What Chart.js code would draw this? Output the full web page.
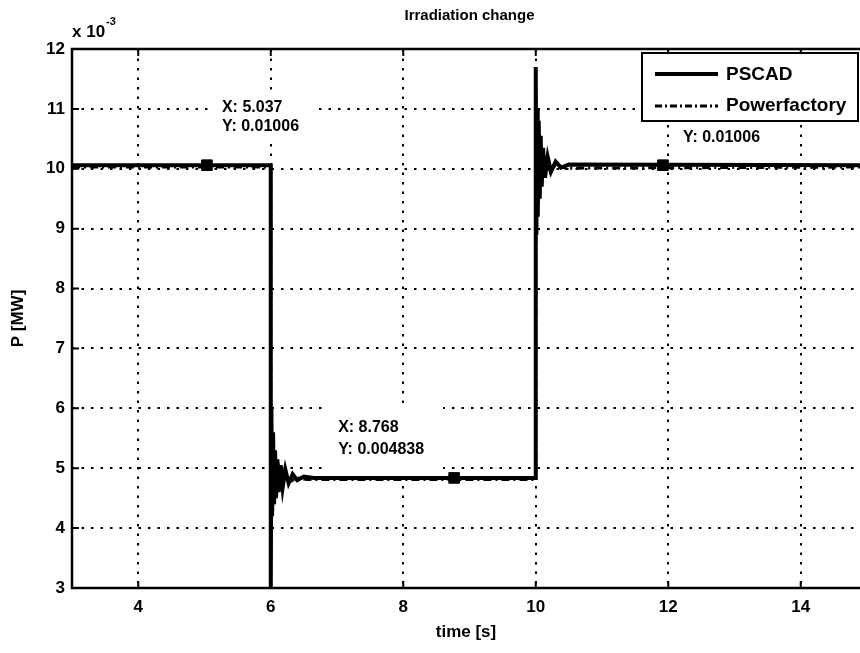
<!DOCTYPE html>
<html>
<head>
<meta charset="utf-8">
<script src="https://cdn.jsdelivr.net/npm/chart.js@4.4.1/dist/chart.umd.min.js"></script>
<style>
  html, body { margin: 0; padding: 0; background: #fff; overflow: hidden; }
  #wrap { width: 880px; height: 653px; }
</style>
</head>
<body>
<div id="wrap"><canvas id="chart" width="880" height="653"></canvas></div>
<script>
// axis ticks
const xTicks = [4, 6, 8, 10, 12, 14];
const yTicks = [3, 4, 5, 6, 7, 8, 9, 10, 11, 12];

// P in units of 10^-3 MW, time in s
const pscadT = [3, 6.0, 6.0, 6.01, 6.02, 6.035, 6.05, 6.065, 6.08, 6.1, 6.12, 6.15, 6.18, 6.22, 6.27, 6.33, 6.4, 6.5, 6.65,
                10.0, 10.0, 10.01, 10.02, 10.03, 10.045, 10.06, 10.075, 10.09, 10.11, 10.14, 10.18, 10.23, 10.3, 10.38, 10.5, 15];
const pscadP = [10.06, 10.06, 2.8, 6.0, 4.2, 5.6, 4.4, 5.3, 4.5, 5.15, 4.6, 5.05, 4.68, 4.98, 4.75, 4.9, 4.8, 4.86, 4.838,
                4.838, 11.7, 8.9, 11.0, 9.2, 10.8, 9.5, 10.55, 9.7, 10.35, 9.85, 10.2, 9.95, 10.12, 10.02, 10.07, 10.06];

const pfT = [3, 6.0, 6.0, 6.015, 6.03, 6.045, 6.06, 6.08, 6.1, 6.13, 6.17, 6.22, 6.3, 6.4, 6.55,
             10.0, 10.0, 10.01, 10.025, 10.04, 10.055, 10.075, 10.1, 10.13, 10.17, 10.22, 10.3, 10.45, 15];
const pfP = [10.03, 10.03, 3.5, 5.4, 4.3, 5.2, 4.5, 5.05, 4.62, 4.95, 4.72, 4.88, 4.78, 4.84, 4.81,
             4.81, 11.2, 9.1, 10.7, 9.4, 10.5, 9.7, 10.3, 9.85, 10.15, 9.95, 10.07, 10.01, 10.03];

// data tips
const tipX = [5.037, 8.768, 11.92];
const tipY = [10.06, 4.838, 10.06];
const tipText = [['X: 5.037', 'Y: 0.01006'], ['X: 8.768', 'Y: 0.004838'], ['X: 11.92', 'Y: 0.01006']];

const FONT = '"Liberation Sans", Arial, sans-serif';

// box offsets [dx, dy, w, h, textDx, line1Dy, line2Dy] relative to the tip point
const tipBox = [
  [6, -73, 100, 48, 15, -58, -39],
  [-127, -73, 116, 65, -116, -50, -28],
  [10, -73, 105, 58, 20, -50, -28]
];

const frame = {
  id: 'frame',
  beforeDatasetsDraw(chart) {
    const { ctx, scales: { x, y } } = chart;
    ctx.save();
    ctx.font = 'bold 16px ' + FONT;
    ctx.textBaseline = 'middle';
    tipX.forEach((tx, i) => {
      const px = x.getPixelForValue(tx), py = y.getPixelForValue(tipY[i]);
      const b = tipBox[i];
      ctx.fillStyle = '#fff';
      ctx.fillRect(px + b[0], py + b[1], b[2], b[3]);
      ctx.fillStyle = '#000';
      ctx.fillText(tipText[i][0], px + b[4], py + b[5]);
      ctx.fillText(tipText[i][1], px + b[4], py + b[6]);
    });
    ctx.restore();
  },
  afterDraw(chart) {
    const { ctx, chartArea: a, scales: { x, y } } = chart;
    ctx.save();
    ctx.strokeStyle = '#000';
    ctx.fillStyle = '#000';

    // inward ticks
    ctx.lineWidth = 2;
    xTicks.forEach(v => {
      const px = x.getPixelForValue(v);
      ctx.beginPath();
      ctx.moveTo(px, a.bottom); ctx.lineTo(px, a.bottom - 7);
      ctx.moveTo(px, a.top); ctx.lineTo(px, a.top + 7);
      ctx.stroke();
    });
    yTicks.forEach(v => {
      const py = y.getPixelForValue(v);
      ctx.beginPath();
      ctx.moveTo(a.left, py); ctx.lineTo(a.left + 7, py);
      ctx.moveTo(a.right, py); ctx.lineTo(a.right - 7, py);
      ctx.stroke();
    });

    // legend
    const lx = 642, ly = 53, lw = 216, lh = 68;
    ctx.fillStyle = '#fff';
    ctx.fillRect(lx, ly, lw, lh);
    ctx.lineWidth = 2;
    ctx.strokeRect(lx, ly, lw, lh);
    ctx.fillStyle = '#000';
    ctx.lineWidth = 4;
    ctx.beginPath(); ctx.moveTo(655, 74); ctx.lineTo(718, 74); ctx.stroke();
    ctx.lineWidth = 3;
    ctx.setLineDash([7, 3, 2, 3]);
    ctx.beginPath(); ctx.moveTo(655, 106); ctx.lineTo(718, 106); ctx.stroke();
    ctx.setLineDash([]);
    ctx.font = 'bold 19px ' + FONT;
    ctx.textBaseline = 'middle';
    ctx.textAlign = 'left';
    ctx.fillText('PSCAD', 726, 75);
    ctx.fillText('Powerfactory', 726, 106);

    // axes box
    ctx.lineWidth = 2.5;
    ctx.strokeRect(a.left, a.top, a.right - a.left, a.bottom - a.top);

    // title and labels
    ctx.textAlign = 'center';
    ctx.font = 'bold 15px ' + FONT;
    ctx.fillText('Irradiation change', (a.left + a.right) / 2, 16);
    ctx.font = 'bold 17px ' + FONT;
    ctx.fillText('time [s]', 466, 632);
    ctx.save();
    ctx.translate(18, (a.top + a.bottom) / 2);
    ctx.rotate(-Math.PI / 2);
    ctx.fillText('P [MW]', 0, 0);
    ctx.restore();

    // exponent
    ctx.textAlign = 'left';
    ctx.font = 'bold 17px ' + FONT;
    ctx.fillText('x 10', a.left, 32);
    const w = ctx.measureText('x 10').width;
    ctx.font = 'bold 11px ' + FONT;
    ctx.fillText('-3', a.left + w + 1, 22);
    ctx.restore();
  }
};

const gridOpts = { color: '#000', lineWidth: 2, drawTicks: false };
const borderOpts = { display: false, dash: [2.5, 7] };

new Chart(document.getElementById('chart'), {
  type: 'line',
  data: {
    datasets: [
      {
        label: 'tips',
        data: tipX.map((v, i) => ({ x: v, y: tipY[i] })),
        showLine: false,
        pointStyle: 'rect',
        pointRadius: 7.5,
        backgroundColor: '#000',
        borderColor: '#000'
      },
      {
        label: 'PSCAD',
        data: pscadT.map((t, i) => ({ x: t, y: pscadP[i] })),
        borderColor: '#000',
        borderWidth: 4,
        pointRadius: 0,
        tension: 0,
        clip: 0
      },
      {
        label: 'Powerfactory',
        data: pfT.map((t, i) => ({ x: t, y: pfP[i] })),
        borderColor: '#000',
        borderWidth: 3,
        borderDash: [8, 4, 2, 4],
        pointRadius: 0,
        tension: 0,
        clip: 0
      }
    ]
  },
  options: {
    responsive: false,
    animation: false,
    events: [],
    layout: { padding: { left: 0, top: 49, right: 13, bottom: 0 } },
    plugins: { legend: { display: false }, tooltip: { enabled: false }, title: { display: false } },
    scales: {
      x: {
        type: 'linear', min: 3, max: 15,
        afterBuildTicks: s => { s.ticks = xTicks.map(v => ({ value: v })); },
        afterFit: s => { s.height = 65; },
        grid: gridOpts, border: borderOpts,
        ticks: { color: '#000', font: { family: FONT, size: 17, weight: 'bold' }, padding: 9, maxRotation: 0 }
      },
      y: {
        type: 'linear', min: 3, max: 12,
        afterBuildTicks: s => { s.ticks = yTicks.map(v => ({ value: v })); },
        afterFit: s => { s.width = 72; },
        grid: gridOpts, border: borderOpts,
        ticks: { color: '#000', font: { family: FONT, size: 17, weight: 'bold' }, padding: 7 }
      }
    }
  },
  plugins: [frame]
});
</script>
</body>
</html>
